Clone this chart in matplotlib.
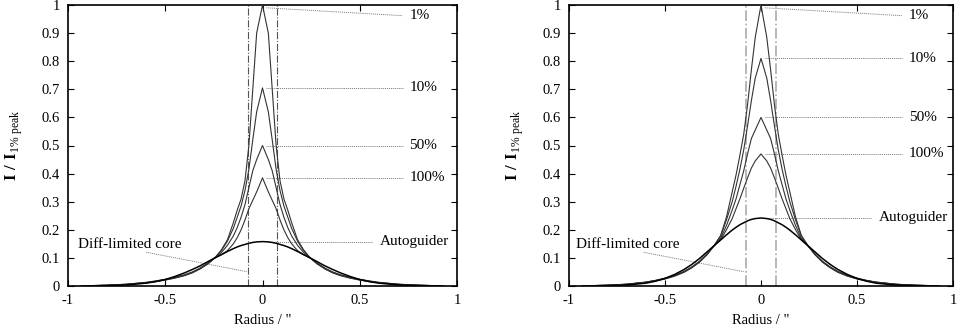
import numpy as np
import matplotlib
matplotlib.use("Agg")
import matplotlib.pyplot as plt

plt.rcParams['font.family'] = ['Liberation Serif', 'DejaVu Serif']
plt.rcParams['mathtext.fontset'] = 'custom'
plt.rcParams['mathtext.rm'] = 'Liberation Serif'
plt.rcParams['mathtext.bf'] = 'Liberation Serif:bold'

# half profile radii (arcsec), mirrored for negative side
radius = [0, 0.03, 0.05, 0.07, 0.09, 0.11, 0.13, 0.15, 0.18, 0.21, 0.245,
          0.28, 0.32, 0.36, 0.4, 0.45, 0.5, 0.55, 0.6, 0.7, 0.8, 0.93]

# left panel
left_1 = [1.0, 0.90, 0.70, 0.50, 0.375, 0.31, 0.27, 0.225, 0.165, 0.13, 0.10,
          0.082, 0.064, 0.050, 0.040, 0.031, 0.024, 0.018, 0.013, 0.0065, 0.003, 0.0005]
left_10 = [0.705, 0.62, 0.52, 0.415, 0.34, 0.285, 0.245, 0.205, 0.16, 0.127, 0.10,
           0.081, 0.063, 0.049, 0.039, 0.030, 0.023, 0.017, 0.012, 0.006, 0.0028, 0.0005]
left_50 = [0.50, 0.45, 0.41, 0.35, 0.29, 0.245, 0.208, 0.178, 0.145, 0.12, 0.10,
           0.080, 0.062, 0.048, 0.038, 0.029, 0.022, 0.016, 0.0115, 0.0055, 0.0025, 0.0004]
left_100 = [0.385, 0.335, 0.305, 0.275, 0.235, 0.20, 0.172, 0.15, 0.126, 0.112, 0.10,
            0.079, 0.061, 0.047, 0.037, 0.028, 0.021, 0.0155, 0.011, 0.005, 0.0022, 0.0004]
left_ag = [0.158, 0.157, 0.155, 0.152, 0.148, 0.144, 0.139, 0.133, 0.123, 0.112, 0.100,
           0.087, 0.072, 0.059, 0.047, 0.034, 0.023, 0.0155, 0.010, 0.0037, 0.0012, 0.0002]

# right panel
right_1 = [1.0, 0.885, 0.77, 0.645, 0.54, 0.465, 0.395, 0.335, 0.245, 0.18, 0.143,
           0.115, 0.088, 0.068, 0.052, 0.038, 0.028, 0.020, 0.014, 0.0065, 0.003, 0.0005]
right_10 = [0.81, 0.74, 0.66, 0.57, 0.484, 0.415, 0.355, 0.30, 0.235, 0.178, 0.143,
            0.114, 0.087, 0.067, 0.051, 0.037, 0.027, 0.0195, 0.0135, 0.0062, 0.0028, 0.0005]
right_50 = [0.60, 0.555, 0.525, 0.47, 0.41, 0.36, 0.31, 0.27, 0.215, 0.17, 0.143,
            0.113, 0.086, 0.066, 0.050, 0.036, 0.026, 0.019, 0.013, 0.006, 0.0026, 0.0004]
right_100 = [0.47, 0.445, 0.42, 0.385, 0.348, 0.31, 0.275, 0.24, 0.20, 0.165, 0.143,
             0.112, 0.085, 0.065, 0.049, 0.035, 0.025, 0.018, 0.0125, 0.0057, 0.0024, 0.0004]
right_ag = [0.242, 0.240, 0.237, 0.232, 0.225, 0.218, 0.209, 0.199, 0.182, 0.164, 0.143,
            0.122, 0.098, 0.077, 0.059, 0.041, 0.027, 0.017, 0.010, 0.0033, 0.0009, 0.0001]

labels = ["1%", "10%", "50%", "100%", "Autoguider"]
core = 0.077

xticks = [-1, -0.5, 0, 0.5, 1]
xticklabels = ["-1", "-0.5", "0", "0.5", "1"]
yticks = [0, 0.1, 0.2, 0.3, 0.4, 0.5, 0.6, 0.7, 0.8, 0.9, 1]
yticklabels = ["0", "0.1", "0.2", "0.3", "0.4", "0.5", "0.6", "0.7", "0.8", "0.9", "1"]


def mirror(vals):
    v = np.array(vals)
    return np.concatenate([v[:0:-1], v])


def draw_panel(ax, curves, core_color, core_lw, label_x, lead_x, ag_x, ag_lead):
    r = np.array(radius)
    rr = np.concatenate([-r[:0:-1], r])
    for i, c in enumerate(curves):
        if i == 4:
            ax.plot(rr, mirror(c), color='black', lw=1.1, zorder=3)
        else:
            ax.plot(rr, mirror(c), color='#333333', lw=0.8, zorder=3)

    ax.axvline(-core, color=core_color, lw=core_lw, ls='-.', zorder=2)
    ax.axvline(core, color=core_color, lw=core_lw, ls='-.', zorder=2)

    dot = dict(color='#777777', lw=0.7, ls=(0, (1, 1)), zorder=2)
    # 1% label slants down a little
    ax.plot([0.02, lead_x], [0.99, 0.962], **dot)
    ax.text(label_x, 0.962, labels[0], va='center', ha='left', fontsize=11)
    for i in [1, 2, 3]:
        pk = curves[i][0]
        ax.plot([0.02, lead_x], [pk, pk], **dot)
        ax.text(label_x, pk, labels[i], va='center', ha='left', fontsize=11)
    pk = curves[4][0]
    ax.plot([0.03, ag_lead], [pk, pk], **dot)
    ax.text(ag_x, pk, labels[4], va='center', ha='left', fontsize=11)

    ax.set_xlim(-1, 1)
    ax.set_ylim(0, 1)
    ax.set_xticks(xticks)
    ax.set_xticklabels(xticklabels, fontsize=10.5)
    ax.set_yticks(yticks)
    ax.set_yticklabels(yticklabels, fontsize=10.5)
    ax.tick_params(direction='in', top=True, right=True, length=4, width=0.8, pad=6)
    for s in ax.spines.values():
        s.set_linewidth(1.2)
    ax.set_xlabel('Radius / "', fontsize=10.5, labelpad=5)
    ax.set_ylabel(r'$\mathbf{I\ /\ I}_{\mathrm{1\%\ peak}}$', fontsize=12, labelpad=12)


fig = plt.figure(figsize=(9.63, 3.29), dpi=100)
ax1 = fig.add_axes([68 / 963, 43 / 329, 389 / 963, 281 / 329])
ax2 = fig.add_axes([569 / 963, 43 / 329, 384 / 963, 281 / 329])

draw_panel(ax1, [left_1, left_10, left_50, left_100, left_ag], '#555555', 0.8,
           0.755, 0.72, 0.604, 0.57)
ax1.text(-0.947, 0.148, "Diff-limited core", va='center', ha='left', fontsize=11)
ax1.plot([-0.597, -0.081], [0.12, 0.051], color='#777777', lw=0.7, ls=(0, (1, 1)))

draw_panel(ax2, [right_1, right_10, right_50, right_100, right_ag], '#aaaaaa', 1.2,
           0.77, 0.735, 0.613, 0.58)
ax2.text(-0.962, 0.148, "Diff-limited core", va='center', ha='left', fontsize=11)
ax2.plot([-0.611, -0.09], [0.12, 0.051], color='#777777', lw=0.7, ls=(0, (1, 1)))

fig.savefig("out.png", dpi=100)
